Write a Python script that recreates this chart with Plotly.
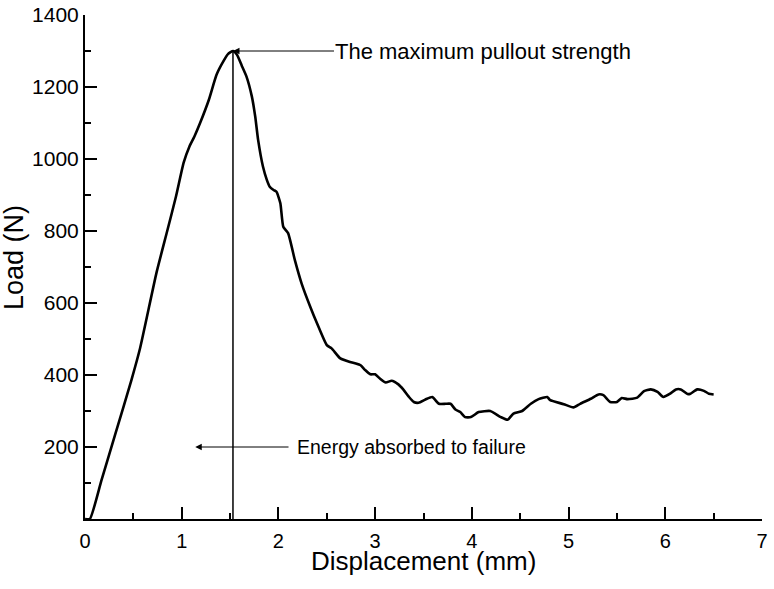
import plotly.graph_objects as go

# Displacement (mm) and load (N)
displacement = [0.0, 0.05, 0.17, 0.31, 0.48, 0.57, 0.74, 0.85, 0.94, 1.02, 1.08, 1.13, 1.19, 1.28,
                1.36, 1.43, 1.48, 1.53, 1.57, 1.62, 1.67, 1.725, 1.76, 1.79, 1.84, 1.88, 1.91, 1.95,
                1.98, 2.02, 2.05, 2.10, 2.17, 2.24, 2.33, 2.40, 2.50, 2.55, 2.64, 2.74, 2.80, 2.85,
                2.90, 2.95, 3.0, 3.05, 3.11, 3.17, 3.24, 3.29, 3.35, 3.40, 3.45, 3.52, 3.59, 3.66,
                3.73, 3.78, 3.83, 3.88, 3.93, 3.99, 4.07, 4.19, 4.30, 4.37, 4.43, 4.52, 4.61, 4.69,
                4.78, 4.81, 4.95, 5.05, 5.12, 5.23, 5.31, 5.36, 5.43, 5.50, 5.55, 5.61, 5.71, 5.78,
                5.85, 5.92, 5.98, 6.05, 6.11, 6.16, 6.23, 6.26, 6.33, 6.40, 6.45, 6.50]
load = [0, 0, 107, 233, 386, 475, 685, 800, 895, 990, 1035, 1062, 1100, 1164,
        1234, 1271, 1292, 1300, 1290, 1260, 1229, 1174, 1118, 1053, 979, 942, 923, 914,
        909, 877, 812, 794, 719, 654, 589, 543, 483, 474, 446, 436, 432, 427,
        413, 402, 402, 390, 379, 384, 374, 360, 339, 325, 323, 332, 339, 320,
        320, 320, 304, 297, 283, 283, 297, 300, 283, 276, 293, 300, 320, 333,
        339, 330, 319, 310, 320, 334, 346, 344, 325, 325, 336, 333, 337, 355,
        360, 353, 339, 348, 360, 360, 347, 348, 360, 356, 348, 346]

x_ticks = [0, 1, 2, 3, 4, 5, 6, 7]
y_ticks = [200, 400, 600, 800, 1000, 1200, 1400]

peak_label = "The maximum pullout strength"
energy_label = "Energy absorbed to failure"
energy_level = 200
energy_arrow_tip = 1.14
energy_arrow_tail = 2.12
energy_text_x = 2.19
peak_text_x = 2.59

peak_i = max(range(len(load)), key=lambda i: load[i])
peak_x, peak_y = displacement[peak_i], load[peak_i]

FONT = "Arial, Liberation Sans, sans-serif"

fig = go.Figure()
fig.add_trace(go.Scatter(x=displacement, y=load, mode="lines",
                         line=dict(color="black", width=2.6, shape="spline", smoothing=0.5),
                         showlegend=False))
# vertical line at peak
fig.add_trace(go.Scatter(x=[peak_x, peak_x], y=[peak_y, 0], mode="lines",
                         line=dict(color="black", width=1.5), showlegend=False, cliponaxis=False))

fig.add_annotation(x=peak_x, y=peak_y, ax=peak_text_x, ay=peak_y, axref="x", ayref="y",
                   xref="x", yref="y", text="", showarrow=True, arrowhead=2, arrowsize=1.3,
                   arrowwidth=1, arrowcolor="black", standoff=0)
fig.add_annotation(x=peak_text_x, y=peak_y, xref="x", yref="y", text=peak_label,
                   showarrow=False, xanchor="left", yanchor="middle", xshift=-2,
                   font=dict(family=FONT, size=22, color="black"))
fig.add_annotation(x=energy_arrow_tip, y=energy_level, ax=energy_arrow_tail, ay=energy_level,
                   axref="x", ayref="y", xref="x", yref="y", text="", showarrow=True,
                   arrowhead=2, arrowsize=1.3, arrowwidth=1, arrowcolor="black", standoff=0)
fig.add_annotation(x=energy_text_x, y=energy_level, xref="x", yref="y", text=energy_label,
                   showarrow=False, xanchor="left", yanchor="middle", xshift=-2,
                   font=dict(family=FONT, size=19.5, color="black"))

# axis titles
fig.add_annotation(x=0.5, y=-0.052, xref="paper", yref="paper", text="Displacement (mm)",
                   showarrow=False, xanchor="center", yanchor="top", borderpad=0,
                   font=dict(family=FONT, size=26, color="black"))
fig.add_annotation(x=-0.104, y=0.519, xref="paper", yref="paper", text="Load (N)",
                   showarrow=False, xanchor="center", yanchor="middle", textangle=-90,
                   font=dict(family=FONT, size=27, color="black"))

fig.update_layout(
    width=774, height=589,
    margin=dict(l=85, r=12, t=15, b=70, autoexpand=False),
    paper_bgcolor="white", plot_bgcolor="white",
    font=dict(family=FONT, size=21, color="black"),
    xaxis=dict(range=[0, 7], tickvals=x_ticks, ticktext=[str(v) for v in x_ticks],
               automargin=False, ticklabeloverflow="allow",
               showgrid=False, zeroline=False, showline=True, linecolor="black", linewidth=2,
               ticks="inside", ticklen=12, tickwidth=1.5, tickcolor="black",
               ticklabelstandoff=3, tickfont=dict(size=20),
               minor=dict(dtick=0.5, ticks="inside", ticklen=6, tickwidth=1.5, tickcolor="black")),
    yaxis=dict(range=[0, 1400], tickvals=y_ticks, ticktext=[str(v) for v in y_ticks],
               automargin=False, ticklabeloverflow="allow",
               showgrid=False, zeroline=False, showline=True, linecolor="black", linewidth=2,
               ticks="inside", ticklen=12, tickwidth=1.5, tickcolor="black",
               ticklabelstandoff=0,
               minor=dict(dtick=100, ticks="inside", ticklen=6, tickwidth=1.5, tickcolor="black")),
)

# remove the page's default body margin so the figure fills the window exactly
fig.write_html("out.html", config={"displayModeBar": False},
               post_script="document.body.style.margin='0';")
